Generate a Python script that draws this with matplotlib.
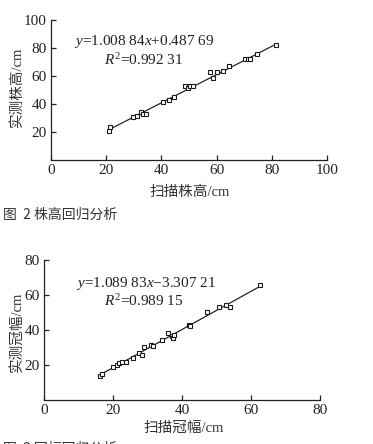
import matplotlib
matplotlib.use("Agg")
import matplotlib.pyplot as plt
import numpy as np

plt.rcParams['font.family'] = ['Liberation Serif', 'Noto Sans CJK SC', 'DejaVu Sans']
plt.rcParams['mathtext.fontset'] = 'custom'
plt.rcParams['mathtext.rm'] = 'Liberation Serif'
plt.rcParams['mathtext.it'] = 'Liberation Serif:italic'

# Plant height data (scanned vs measured)
height_scan = [21.0, 21.4, 29.8, 31.0, 32.6, 33.5, 34.3, 40.7, 42.8, 44.7, 48.6, 49.5,
               50.3, 51.6, 57.6, 58.6, 60.0, 62.4, 64.5, 70.3, 71.3, 72.1, 74.5, 81.5]
height_meas = [20.7, 23.8, 31.0, 31.7, 34.0, 33.0, 32.6, 41.2, 42.9, 44.8, 52.6, 51.2,
               52.6, 52.6, 62.9, 58.8, 62.9, 63.3, 66.9, 72.1, 72.1, 72.1, 75.7, 82.4]
height_coef = (1.00884, 0.48769)

# Crown width data (scanned vs measured)
crown_scan = [16.2, 16.7, 19.9, 21.1, 21.7, 22.5, 23.7, 25.9, 27.6, 28.3, 29.1, 31.0, 31.7,
              34.3, 35.9, 37.2, 37.5, 37.8, 42.0, 42.3, 47.2, 50.7, 52.7, 53.9, 62.6]
crown_meas = [13.9, 14.9, 18.7, 20.0, 21.0, 21.7, 21.7, 23.8, 27.0, 25.5, 30.5, 31.4, 30.9,
              34.3, 38.1, 36.6, 35.2, 37.3, 42.9, 42.3, 50.3, 53.0, 54.5, 53.0, 65.9]
crown_coef = (1.08983, -3.30721)

W, H = 373, 444
fig = plt.figure(figsize=(W / 100, H / 100), dpi=100)

def px_axes(left, top, right, bottom):
    return fig.add_axes([left / W, 1 - bottom / H, (right - left) / W, (bottom - top) / H])

def style(ax, lim, ticks_x, ticks_y):
    ax.set_xlim(0, lim)
    ax.set_ylim(0, ticks_y[-1])
    ax.set_xticks(ticks_x)
    ax.set_yticks(ticks_y)
    for s in ['top', 'right']:
        ax.spines[s].set_visible(False)
    for s in ['left', 'bottom']:
        ax.spines[s].set_linewidth(0.9)
        ax.spines[s].set_color('#222222')
    ax.tick_params(direction='in', length=3.5, width=0.9, labelsize=11,
                   colors='#222222', pad=3)

def draw(ax, xs, ys, coef):
    xs = np.array(xs); ys = np.array(ys)
    xl = np.array([xs.min(), xs.max()])
    ax.plot(xl, coef[0] * xl + coef[1], color='#1a1a1a', lw=0.85)
    ax.plot(xs, ys, linestyle='none', marker='s', markersize=3.2,
            markerfacecolor='white', markeredgecolor='#1a1a1a', markeredgewidth=0.8)

# Top chart
ax1 = px_axes(51, 20, 327, 160)
draw(ax1, height_scan, height_meas, height_coef)
style(ax1, 100, [0, 20, 40, 60, 80, 100], [20, 40, 60, 80, 100])
ax1.set_ylim(0, 100)
fig.text(74 / W, 1 - 41 / H, r'$y$=1.008 84$x$+0.487 69', fontsize=11,
         color='#222222', va='center', ha='left')
fig.text(144 / W, 1 - 60 / H, r'$R^2$=0.992 31', fontsize=11,
         color='#222222', va='center', ha='center')
fig.text(17 / W, 1 - 87 / H, '实测株高/cm', rotation=90, fontsize=10.5,
         color='#333333', va='center', ha='center')
fig.text(190 / W, 1 - 192 / H, '扫描株高/cm', fontsize=10.5,
         color='#333333', va='center', ha='center')
fig.text(3 / W, 1 - 215 / H, '图  2 株高回归分析', fontsize=10,
         family=['Noto Sans CJK SC', 'DejaVu Sans'], color='#333333', va='center', ha='left')

# Bottom chart
ax2 = px_axes(44, 260, 320, 400)
draw(ax2, crown_scan, crown_meas, crown_coef)
style(ax2, 80, [0, 20, 40, 60, 80], [20, 40, 60, 80])
ax2.set_ylim(0, 80)
fig.text(76 / W, 1 - 283 / H, r'$y$=1.089 83$x$$-$3.307 21', fontsize=11,
         color='#222222', va='center', ha='left')
fig.text(144 / W, 1 - 301 / H, r'$R^2$=0.989 15', fontsize=11,
         color='#222222', va='center', ha='center')
fig.text(17 / W, 1 - 332 / H, '实测冠幅/cm', rotation=90, fontsize=10.5,
         color='#333333', va='center', ha='center')
fig.text(184 / W, 1 - 428 / H, '扫描冠幅/cm', fontsize=10.5,
         color='#333333', va='center', ha='center')
fig.text(3 / W, 1 - 449 / H, '图  3 冠幅回归分析', fontsize=10,
         family=['Noto Sans CJK SC', 'DejaVu Sans'], color='#333333', va='center', ha='left')

fig.savefig('out.png', dpi=100)
